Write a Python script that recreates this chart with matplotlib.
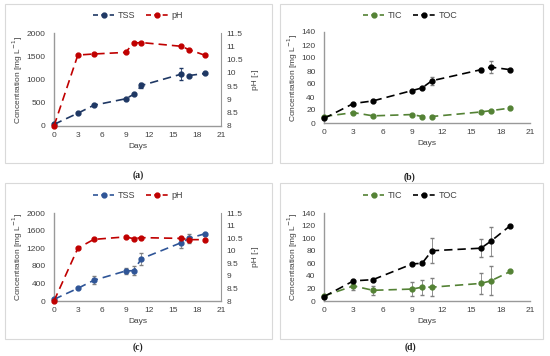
import matplotlib.pyplot as plt
from matplotlib.patches import Rectangle
from matplotlib.lines import Line2D

plt.rcParams['font.family'] = ['Liberation Sans', 'DejaVu Sans']

days = [0, 3, 5, 9, 10, 11, 16, 17, 19]

# panel (a)
tss_a = [35, 275, 446, 585, 678, 872, 1115, 1086, 1130]
tss_a_err = [0, 0, 0, 0, 0, 50, 130, 0, 0]
ph_a = [8.0, 10.67, 10.71, 10.77, 11.12, 11.14, 11.0, 10.87, 10.66]

# panel (b)
tic_b = [10, 16, 11, 13, 10, 10, 17, 19, 23]
toc_b = [7, 30, 34, 50, 54, 65, 82, 86, 82]
toc_b_err = [0, 0, 0, 0, 0, 6, 3, 9, 0]

# panel (c)
tss_c = [38, 288, 470, 682, 690, 962, 1326, 1424, 1530]
tss_c_err = [0, 0, 90, 60, 110, 140, 120, 100, 0]
ph_c = [8.0, 10.1, 10.45, 10.55, 10.48, 10.52, 10.49, 10.44, 10.44]

# panel (d)
tic_d = [8, 24, 17, 19, 22, 22, 28, 32, 47]
tic_d_err = [0, 6, 7, 11, 12, 14, 17, 23, 0]
toc_d = [7, 32, 34, 59, 60, 80, 84, 95, 120]
toc_d_err = [0, 0, 0, 0, 0, 20, 14, 23, 0]

W, H = 550, 356
fig = plt.figure(figsize=(W / 100, H / 100), dpi=100)

SPINE = '#999999'
TXT = '#404040'
FS = 6


def px_axes(l, t, r, b):
    return fig.add_axes([l / W, 1 - b / H, (r - l) / W, (b - t) / H])


def box(l, t, r, b):
    fig.add_artist(Rectangle((l / W, 1 - b / H), (r - l) / W, (b - t) / H,
                             transform=fig.transFigure, fill=False,
                             edgecolor='#D9D9D9', linewidth=0.8))


def style(ax, ylim, yticks):
    ax.set_xlim(0, 21)
    ax.set_xticks(range(0, 22, 3))
    ax.set_ylim(*ylim)
    ax.set_yticks(yticks)
    for s in ['top', 'right']:
        ax.spines[s].set_visible(False)
    for s in ['left', 'bottom']:
        ax.spines[s].set_color(SPINE)
        ax.spines[s].set_linewidth(1.0)
    ax.tick_params(length=0, labelsize=FS, labelcolor=TXT)
    ax.tick_params(axis='y', pad=6)
    ax.tick_params(axis='x', pad=4)
    ax.set_xlabel('Days', fontsize=FS, color=TXT, labelpad=3)
    ax.set_ylabel('Concentration [mg L$^{-1}$]', fontsize=FS, color=TXT, labelpad=1)


def series(ax, y, err, color, ecolor, z=3):
    ax.errorbar(days, y, yerr=err, color=color, ls=(0, (5, 3)), lw=1.2,
                marker='o', ms=3.5, ecolor=ecolor, elinewidth=0.6, capsize=1.5,
                clip_on=False, zorder=z)


def ph_axis(ax, y):
    ax2 = ax.twinx()
    ax2.set_ylim(8, 11.5)
    ax2.set_yticks([8, 8.5, 9, 9.5, 10, 10.5, 11, 11.5])
    ax2.set_yticklabels(['8', '8.5', '9', '9.5', '10', '10.5', '11', '11.5'])
    for s in ['top', 'left', 'bottom']:
        ax2.spines[s].set_visible(False)
    ax2.spines['right'].set_color(SPINE)
    ax2.tick_params(length=0, labelsize=FS, labelcolor=TXT, pad=4)
    ax2.set_ylabel('pH [-]', fontsize=FS, color=TXT, rotation=90, labelpad=6)
    ax2.plot(days, y, color='#C00000', ls=(0, (5, 3)), lw=1.2, marker='o',
             ms=3.5, clip_on=False, zorder=3)
    return ax2


def legend(l_items, x, y):
    handles = [Line2D([], [], color=c, ls=(0, (3, 2)), lw=1.2, marker='o', ms=3.5)
               for c, _ in l_items]
    fig.legend(handles, [n for _, n in l_items], loc='center',
               bbox_to_anchor=(x / W, 1 - y / H), ncol=2, frameon=False,
               fontsize=6.5, handlelength=2.4, columnspacing=1.2,
               handletextpad=0.4, labelcolor=TXT)


def tag(text, x, y):
    fig.text(x / W, 1 - y / H, text, ha='center', va='center', fontsize=7,
             family='Liberation Serif', fontweight='bold', color='#222222')


# (a)
box(5, 4, 272, 163)
ax = px_axes(54, 33, 221, 126)
style(ax, (0, 2000), range(0, 2001, 500))
series(ax, tss_a, tss_a_err, '#1F3864', '#1F3864')
ph_axis(ax, ph_a)
legend([('#1F3864', 'TSS'), ('#C00000', 'pH')], 138, 16)
tag('(a)', 138, 175)

# (b)
box(280, 4, 543, 163)
ax = px_axes(324, 32, 530, 123)
style(ax, (0, 140), range(0, 141, 20))
series(ax, tic_b, [0] * 9, '#548235', '#7F7F7F')
series(ax, toc_b, toc_b_err, '#000000', '#7F7F7F', 4)
legend([('#548235', 'TIC'), ('#000000', 'TOC')], 410, 16)
tag('(b)', 410, 177)

# (c)
box(5, 183, 272, 339)
ax = px_axes(54, 213, 221, 301)
style(ax, (0, 2000), range(0, 2001, 400))
series(ax, tss_c, tss_c_err, '#2F5597', '#7F7F7F')
ph_axis(ax, ph_c)
legend([('#2F5597', 'TSS'), ('#C00000', 'pH')], 138, 196)
tag('(c)', 138, 347)

# (d)
box(280, 183, 543, 339)
ax = px_axes(324, 213, 530, 301)
style(ax, (0, 140), range(0, 141, 20))
series(ax, tic_d, tic_d_err, '#548235', '#7F7F7F')
series(ax, toc_d, toc_d_err, '#000000', '#7F7F7F', 4)
legend([('#548235', 'TIC'), ('#000000', 'TOC')], 410, 196)
tag('(d)', 410, 347)

fig.savefig('out.png', dpi=100)
